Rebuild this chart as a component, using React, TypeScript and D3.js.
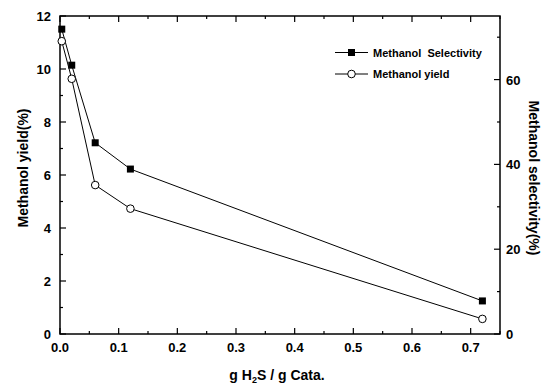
import React from "react";
import * as d3 from "d3";

const xValues = [0.003, 0.02, 0.06, 0.12, 0.72];
const selectivity = [71.9, 63.4, 45.1, 38.9, 7.8];
const yieldVals = [11.05, 9.63, 5.62, 4.73, 0.57];
const xTicks = [0, 0.1, 0.2, 0.3, 0.4, 0.5, 0.6, 0.7];
const xMinor = [0.05, 0.15, 0.25, 0.35, 0.45, 0.55, 0.65, 0.75];
const yLeftTicks = [0, 2, 4, 6, 8, 10, 12];
const yLeftMinor = [1, 3, 5, 7, 9, 11];
const yRightTicks = [0, 20, 40, 60];
const yRightMinor = [10, 30, 50, 70];

const W = 549, H = 387;
const L = 60, R = 500, T = 16, B = 334;
const font = "Arial, 'Liberation Sans', sans-serif";

export default function App() {
  const x = d3.scaleLinear().domain([0, 0.75]).range([L, R]);
  const yL = d3.scaleLinear().domain([0, 12]).range([B, T]);
  const yR = d3.scaleLinear().domain([0, 75]).range([B, T]);
  const lineSel = d3.line<number>().x((_, i) => x(xValues[i])).y((d) => yR(d));
  const lineYld = d3.line<number>().x((_, i) => x(xValues[i])).y((d) => yL(d));
  const sq = 7;
  const cr = 3.8;
  return (
    <svg width={W} height={H} style={{ position: "absolute", left: 0, top: 0, background: "#fff" }}>
      <rect x={0} y={0} width={W} height={H} fill="#fff" />
      {/* frame */}
      <rect x={L} y={T} width={R - L} height={B - T} fill="none" stroke="#000" strokeWidth={1.5} />
      {/* x ticks */}
      {xTicks.map((t) => (
        <g key={"xt" + t}>
          <line x1={x(t)} x2={x(t)} y1={B} y2={B - 6} stroke="#000" strokeWidth={1.2} />
          <line x1={x(t)} x2={x(t)} y1={T} y2={T + 6} stroke="#000" strokeWidth={1.2} />
          <text x={x(t)} y={352} textAnchor="middle" fontFamily={font} fontWeight="bold" fontSize={13}>
            {t.toFixed(1)}
          </text>
        </g>
      ))}
      {xMinor.map((t) => (
        <g key={"xm" + t}>
          <line x1={x(t)} x2={x(t)} y1={B} y2={B - 3} stroke="#000" strokeWidth={1.2} />
          <line x1={x(t)} x2={x(t)} y1={T} y2={T + 3} stroke="#000" strokeWidth={1.2} />
        </g>
      ))}
      {/* left ticks */}
      {yLeftTicks.map((t) => (
        <g key={"yl" + t}>
          <line x1={L} x2={L + 6} y1={yL(t)} y2={yL(t)} stroke="#000" strokeWidth={1.2} />
          <text x={51} y={yL(t) + 5} textAnchor="end" fontFamily={font} fontWeight="bold" fontSize={13}>
            {t}
          </text>
        </g>
      ))}
      {yLeftMinor.map((t) => (
        <line key={"ylm" + t} x1={L} x2={L + 3} y1={yL(t)} y2={yL(t)} stroke="#000" strokeWidth={1.2} />
      ))}
      {/* right ticks */}
      {yRightTicks.map((t) => (
        <g key={"yr" + t}>
          <line x1={R} x2={R - 6} y1={yR(t)} y2={yR(t)} stroke="#000" strokeWidth={1.2} />
          <text x={506} y={yR(t) + 5} textAnchor="start" fontFamily={font} fontWeight="bold" fontSize={13}>
            {t}
          </text>
        </g>
      ))}
      {yRightMinor.map((t) => (
        <line key={"yrm" + t} x1={R} x2={R - 3} y1={yR(t)} y2={yR(t)} stroke="#000" strokeWidth={1.2} />
      ))}
      {/* series */}
      <path d={lineSel(selectivity) || ""} fill="none" stroke="#000" strokeWidth={1} />
      <path d={lineYld(yieldVals) || ""} fill="none" stroke="#000" strokeWidth={1} />
      {selectivity.map((d, i) => (
        <rect key={"s" + i} x={x(xValues[i]) - sq / 2} y={yR(d) - sq / 2} width={sq} height={sq} fill="#000" />
      ))}
      {yieldVals.map((d, i) => (
        <circle key={"c" + i} cx={x(xValues[i])} cy={yL(d)} r={cr} fill="#fff" stroke="#000" strokeWidth={1} />
      ))}
      {/* legend */}
      <line x1={335} x2={368} y1={52.5} y2={52.5} stroke="#000" strokeWidth={1} />
      <rect x={351.5 - sq / 2} y={52.5 - sq / 2} width={sq} height={sq} fill="#000" />
      <text x={373} y={56.5} fontFamily={font} fontWeight="bold" fontSize={11} style={{ whiteSpace: "pre" }}>
        {"Methanol  Selectivity"}
      </text>
      <line x1={335} x2={368} y1={74} y2={74} stroke="#000" strokeWidth={1} />
      <circle cx={351.5} cy={74} r={cr} fill="#fff" stroke="#000" strokeWidth={1} />
      <text x={373} y={78} fontFamily={font} fontWeight="bold" fontSize={11}>
        Methanol yield
      </text>
      {/* axis titles */}
      <text x={277} y={380} textAnchor="middle" fontFamily={font} fontWeight="bold" fontSize={14}>
        g H<tspan dy={3} fontSize={9}>2</tspan><tspan dy={-3}>S / g Cata.</tspan>
      </text>
      <text transform="translate(28,168) rotate(-90)" textAnchor="middle" fontFamily={font} fontWeight="bold" fontSize={14}>
        Methanol yield(%)
      </text>
      <text transform="translate(529,178) rotate(90)" textAnchor="middle" fontFamily={font} fontWeight="bold" fontSize={14}>
        Methanol selectivity(%)
      </text>
    </svg>
  );
}
